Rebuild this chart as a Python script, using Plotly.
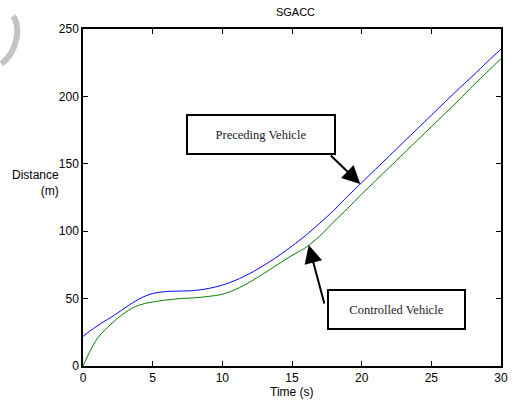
import numpy as np
import plotly.graph_objects as go

time_s = [0, 0.5, 1, 1.5, 2, 2.5, 3, 3.5, 4, 4.5, 5, 6, 7, 8, 9, 10, 11, 12, 13, 14, 15,
          16, 17, 18, 19, 20, 21, 22, 23, 24, 25, 26, 27, 28, 29, 30]
preceding = [22, 26, 29.5, 33, 36, 39.5, 43, 46.5, 49.5, 52, 53.8, 55.3, 55.6, 56, 57.5, 60,
             63.8, 68.8, 74.8, 81.5, 89, 97, 106, 115.5, 126, 136, 146, 156, 166, 176, 186,
             196, 206, 215.5, 225.5, 235]
controlled = [0, 11, 20, 26, 31, 35.5, 39.5, 42.8, 45, 46.5, 47.5, 49, 50, 50.6, 51.6, 53.2,
              57, 62.5, 68.8, 75.5, 82, 88, 96.5, 107, 117, 127.5, 137.5, 147.5, 157.5, 167.5,
              177.5, 187.5, 197.5, 208, 218, 228]
x_ticks = [0, 5, 10, 15, 20, 25, 30]
y_ticks = [0, 50, 100, 150, 200, 250]

W, H = 514, 404
ML, MR, MT, MB = 83, 6, 29, 38
PW, PH = W - ML - MR, H - MT - MB

def px(x):
    return (x - ML) / PW

def py(y):
    return (H - MB - y) / PH

fig = go.Figure()
fig.add_trace(go.Scatter(x=time_s, y=preceding, mode="lines",
                         line=dict(color="#0000ff", width=1, shape="spline", smoothing=0.8),
                         name="Preceding Vehicle", showlegend=False))
fig.add_trace(go.Scatter(x=time_s, y=controlled, mode="lines",
                         line=dict(color="#008000", width=1, shape="spline", smoothing=0.8),
                         name="Controlled Vehicle", showlegend=False))

axis_common = dict(showgrid=False, zeroline=False, showline=True, linecolor="black", linewidth=1.5,
                   mirror="allticks", ticks="inside", ticklen=5, tickwidth=1, tickcolor="black",
                   tickfont=dict(family="Liberation Sans, Arial", size=12, color="black"))

fig.update_layout(
    width=W, height=H,
    margin=dict(l=ML, r=MR, t=MT, b=MB),
    paper_bgcolor="white", plot_bgcolor="white",
    title=dict(text="SGACC", x=0.5 * (ML + W - MR) / W, xanchor="center", y=1 - 12 / H, yanchor="middle",
               font=dict(family="Liberation Sans, Arial", size=11, color="black")),
    xaxis=dict(range=[0, 30], tickvals=x_ticks, ticktext=[str(v) for v in x_ticks], **axis_common),
    yaxis=dict(range=[0, 250], tickvals=y_ticks, ticktext=[str(v) for v in y_ticks], **axis_common),
    showlegend=False,
)

fig.add_annotation(text="Time (s)", xref="paper", yref="paper", x=0.5, y=py(392), xanchor="center",
                   yanchor="middle", showarrow=False,
                   font=dict(family="Liberation Sans, Arial", size=12, color="black"))
fig.add_annotation(text="Distance<br>(m)", xref="paper", yref="paper", x=px(61), y=py(183), xanchor="right",
                   yanchor="middle", align="right", showarrow=False,
                   font=dict(family="Liberation Sans, Arial", size=12, color="black"))

# label boxes
box_font = dict(family="Liberation Serif, Times New Roman", size=12.5, color="#222")
fig.add_annotation(text="Preceding Vehicle", xref="paper", yref="paper", x=px(188), y=py(114),
                   xanchor="left", yanchor="top", showarrow=False, width=144, height=35,
                   bordercolor="black", borderwidth=2, bgcolor="white", font=box_font)
fig.add_annotation(text="Controlled Vehicle", xref="paper", yref="paper", x=px(331), y=py(289),
                   xanchor="left", yanchor="top", showarrow=False, width=133, height=35,
                   bordercolor="black", borderwidth=2, bgcolor="white", font=box_font)

# arrows pointing at curves
tp = 19.9
fig.add_annotation(x=tp, y=float(np.interp(tp, time_s, preceding)), xref="x", yref="y",
                   ax=-31, ay=-30, text="", showarrow=True, arrowhead=2, arrowsize=1.8,
                   arrowwidth=2, arrowcolor="black")
tc = 16.2
fig.add_annotation(x=tc, y=float(np.interp(tc, time_s, controlled)), xref="x", yref="y",
                   ax=16, ay=60, text="", showarrow=True, arrowhead=2, arrowsize=1.8,
                   arrowwidth=2, arrowcolor="black")

# gray arc decoration at top-left
path = "M {},{} C {},{} {},{} {},{}".format(px(12), py(16), px(19), py(26), px(18), py(50), px(0), py(64))
fig.add_shape(type="path", path=path, xref="paper", yref="paper",
              line=dict(color="#c4c4c4", width=6))

fig.write_html("out.html")
